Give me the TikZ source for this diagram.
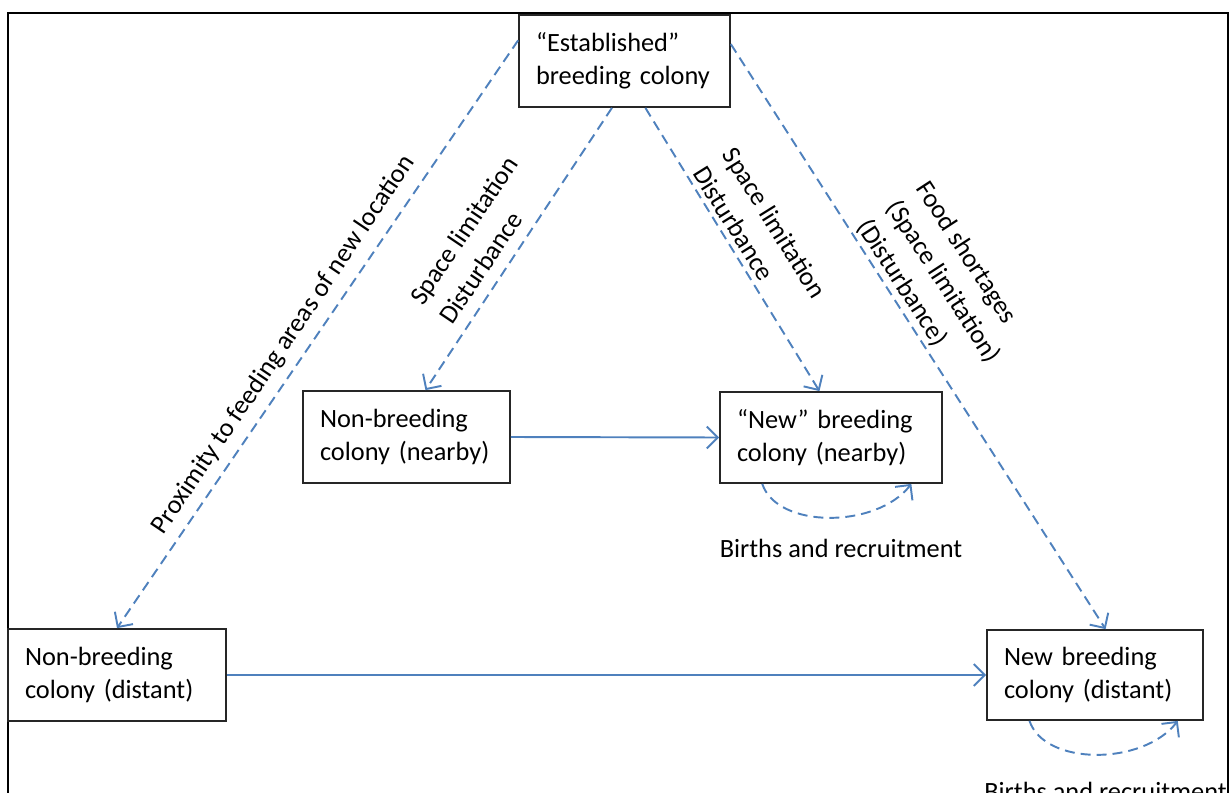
\documentclass[tikz,border=0pt]{standalone}
\usepackage{fontspec}
\setmainfont{Carlito}
\usetikzlibrary{arrows.meta}
\definecolor{lineblue}{RGB}{79,129,189}

\begin{document}
\begin{tikzpicture}[x=0.02cm, y=-0.02cm,
		colony/.style={draw=black!85, line width=1pt, align=left, inner xsep=0.34cm, inner ysep=0pt, font=\fontsize{15}{18.8}\selectfont},
		cause/.style={align=left, inner sep=0pt, font=\fontsize{15}{20}\selectfont},
		flow/.style={draw=lineblue, line width=1.1pt, -{Straight Barb[length=2.2mm, width=4.4mm]}},
		maybe/.style={flow, dash pattern=on 0.2cm off 0.12cm}]
		\useasboundingbox (0,0) rectangle (1229,793);
		\draw[line width=1.6pt] (8,800)--(8,13)--(1228,13)--(1228,800);
		\node[colony, text width=3.54cm, minimum height=1.84cm](est)at(624.5, 61){“Established”\\breeding colony};
		\node[colony, text width=3.46cm, minimum height=1.84cm](nbnear)at(406.5, 437){Non-breeding\\colony (nearby)};
		\node[colony, text width=3.76cm, minimum height=1.82cm](newnear)at(831, 437.5){“New” breeding\\colony (nearby)};
		\node[colony, text width=3.68cm, minimum height=1.84cm](nbdist)at(117, 675){Non-breeding\\colony (distant)};
		\node[colony, text width=3.64cm, minimum height=1.80cm](newdist)at(1095, 675){New breeding\\colony (distant)};
		\draw[maybe](est.169)--(nbdist.north);
		\draw[maybe](est.255)--(nbnear.68);
		\draw[maybe](est.294)--(newnear.104);
		\draw[maybe](est.9)--(newdist.77);
		\draw[flow](nbnear.east)--(newnear.west);
		\draw[flow](nbdist.east)--(newdist.west);
		\draw[maybe](newnear.214) .. controls +(15, 45) and +(-35, 45) .. (newnear.330);
		\draw[maybe](newdist.215) .. controls +(15, 45) and +(-35, 45) .. (newdist.331);
		\node[cause, rotate=56](prox)at(284, 345){Proximity to feeding areas of new location};
		\node[cause, rotate=56](nearcause)at(478, 240){Space limitation\\Disturbance};
		\node[cause, rotate=-58](newcause)at(760, 232){Space limitation\\Disturbance};
		\node[cause, rotate=-57](farcause)at(943, 282){Food shortages\\(Space limitation)\\(Disturbance)};
		\node[cause](births)at(841, 548){Births and recruitment};
		\node[cause, anchor=west](birthsfar)at(984, 791){Births and recruitment};
	\end{tikzpicture}
\end{document}
